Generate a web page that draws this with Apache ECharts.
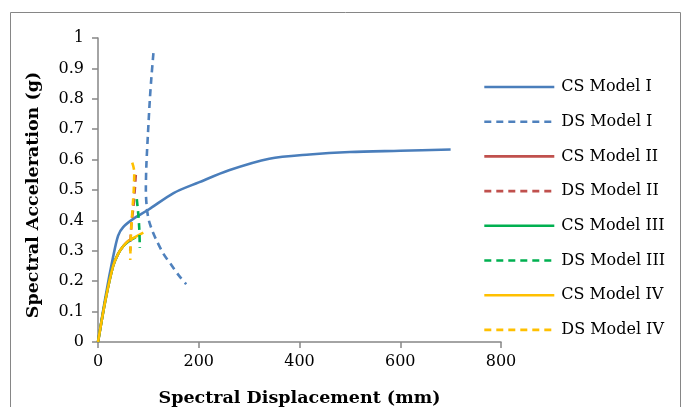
<!DOCTYPE html>
<html>
<head>
<meta charset="utf-8">
<script src="https://cdn.jsdelivr.net/npm/echarts@6/dist/echarts.min.js"></script>
<style>
  html, body { margin: 0; padding: 0; background: #fff; }
  #main { width: 686px; height: 407px; }
</style>
</head>
<body>
<div id="main"></div>
<script>
// capacity spectra (solid) and demand spectra (dashed), [Sd mm, Sa g]
const csModel1 = [[0,0],[15,0.15],[30,0.28],[40,0.35],[50,0.378],[70,0.405],[100,0.435],[150,0.49],[200,0.525],[260,0.565],[340,0.603],[420,0.617],[500,0.625],[600,0.629],[700,0.633]]
const dsModel1 = [[110,0.95],[106,0.87],[103,0.8],[99,0.68],[96,0.58],[95,0.5],[97,0.44],[101,0.4],[108,0.365],[116,0.335],[130,0.29],[145,0.255],[160,0.22],[175,0.19]]
const csModel2 = [[0,0],[15,0.14],[30,0.25],[40,0.29],[50,0.315],[60,0.332],[70,0.342]]
const dsModel2 = [[75,0.55],[73,0.5],[70,0.44],[67,0.4],[65,0.35],[64,0.3]]
const csModel3 = [[0,0],[15,0.14],[30,0.25],[40,0.29],[50,0.315],[60,0.33],[75,0.345]]
const dsModel3 = [[77,0.47],[80,0.42],[82,0.37],[83,0.31]]
const csModel4 = [[0,0],[15,0.14],[30,0.25],[40,0.29],[50,0.315],[60,0.332],[70,0.342],[90,0.36]]
const dsModel4 = [[68,0.59],[72,0.56],[71,0.5],[69,0.45],[67,0.4],[65,0.34],[64,0.27]]

const blue = '#4A7EBB', red = '#C0504D', green = '#00B050', yellow = '#FFC000'
const font = 'DejaVu Serif'

function mkSeries(name, data, color, dashed, smooth) {
    return {
        name: name,
        type: 'line',
        data: data,
        symbol: 'none',
        smooth: smooth,
        color: color,
        lineStyle: { color: color, width: 2.6, type: dashed ? [7, 5] : 'solid' },
        emphasis: { disabled: true },
        z: dashed ? 3 : 2
    }
}

const chart = echarts.init(document.getElementById('main'))
chart.setOption({
    animation: false,
    backgroundColor: '#fff',
    graphic: [{
        type: 'rect',
        shape: { x: 10.5, y: 12.5, width: 670, height: 420 },
        style: { fill: 'none', stroke: '#868686', lineWidth: 1 },
        silent: true
    }],
    grid: { left: 98, top: 38, width: 403, height: 304, outerBoundsMode: 'none', containLabel: false },
    legend: {
        orient: 'vertical',
        left: 478,
        top: 74,
        itemWidth: 70,
        itemHeight: 14,
        itemGap: 18.7,
        itemStyle: { opacity: 0 },
        lineStyle: { width: 2.6 },
        textStyle: { fontFamily: font, fontSize: 16, color: '#000', padding: [0, 0, 0, 2] },
        data: ['CS Model I', 'DS Model I', 'CS Model II', 'DS Model II', 'CS Model III', 'DS Model III', 'CS Model IV', 'DS Model IV']
    },
    xAxis: {
        type: 'value',
        min: 0, max: 800, interval: 200,
        name: 'Spectral Displacement (mm)',
        nameLocation: 'middle',
        nameGap: 47,
        nameTextStyle: { fontFamily: font, fontSize: 17.5, fontWeight: 'bold', color: '#000' },
        axisLine: { lineStyle: { color: '#868686', width: 1.5 } },
        axisTick: { show: true, length: 6, lineStyle: { color: '#868686', width: 1.5 } },
        axisLabel: { fontFamily: font, fontSize: 16, color: '#000', margin: 12 },
        splitLine: { show: false }
    },
    yAxis: {
        type: 'value',
        min: 0, max: 1, interval: 0.1,
        name: 'Spectral Acceleration (g)',
        nameLocation: 'middle',
        nameRotate: 90,
        nameGap: 56,
        nameTextStyle: { fontFamily: font, fontSize: 17.5, fontWeight: 'bold', color: '#000', padding: [0, 10, 0, 0] },
        axisLine: { show: true, lineStyle: { color: '#868686', width: 1.5 } },
        axisTick: { show: true, length: 6, lineStyle: { color: '#868686', width: 1.5 } },
        axisLabel: { fontFamily: font, fontSize: 16, color: '#000', margin: 14,
            formatter: v => String(Math.round(v * 10) / 10) },
        splitLine: { show: false }
    },
    series: [
        mkSeries('CS Model I', csModel1, blue, false, 0.3),
        mkSeries('DS Model I', dsModel1, '#4F81BD', true, 0.3),
        mkSeries('CS Model II', csModel2, red, false, 0.3),
        mkSeries('DS Model II', dsModel2, red, true, 0.3),
        mkSeries('CS Model III', csModel3, green, false, 0.3),
        mkSeries('DS Model III', dsModel3, green, true, 0.3),
        mkSeries('CS Model IV', csModel4, yellow, false, 0.3),
        mkSeries('DS Model IV', dsModel4, yellow, true, 0.3)
    ]
})
</script>
</body>
</html>
